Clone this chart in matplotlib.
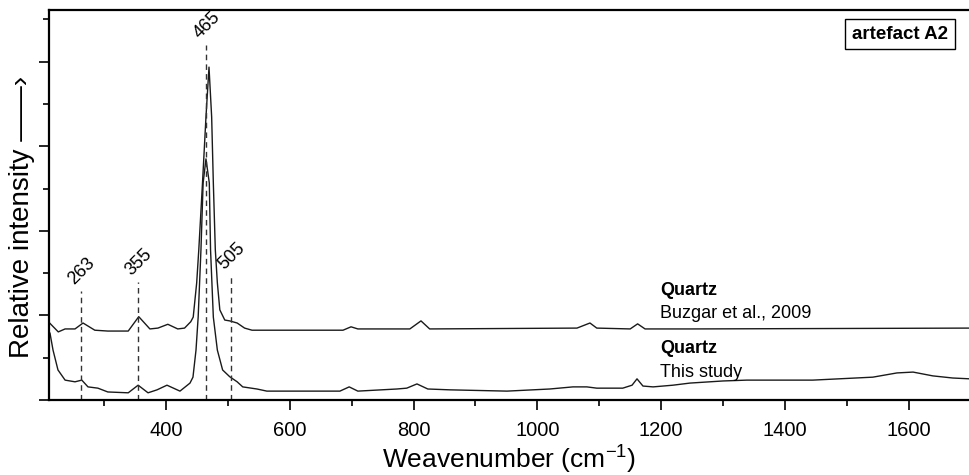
import numpy as np
import matplotlib
matplotlib.use('Agg')
import matplotlib.pyplot as plt
from matplotlib.ticker import MultipleLocator, NullFormatter

plt.rcParams['font.family'] = ['Liberation Sans', 'DejaVu Sans']
plt.rcParams['mathtext.default'] = 'regular'

# spectrum from Buzgar et al., 2009 (upper trace)
wn_ref = [212, 226, 237, 253, 266, 285, 306, 339, 356, 374, 387, 403, 419, 430,
          440, 444, 449.6, 453, 459, 464.6, 469.5, 473.8, 476.5, 479.7, 483, 487,
          495, 503, 515, 527, 539, 686, 699, 710, 794, 812, 826, 1064, 1085,
          1096, 1150, 1162, 1174, 1250, 1699]
int_ref = [1.82, 1.61, 1.68, 1.68, 1.82, 1.65, 1.63, 1.63, 1.97, 1.68, 1.70, 1.79,
           1.68, 1.70, 1.85, 1.96, 2.77, 3.55, 5.13, 6.69, 7.87, 6.69, 5.13, 3.55,
           2.77, 2.13, 1.89, 1.87, 1.82, 1.70, 1.65, 1.65, 1.73, 1.68, 1.68, 1.87,
           1.68, 1.70, 1.82, 1.70, 1.68, 1.80, 1.68, 1.68, 1.70]

# spectrum of this study (lower trace)
wn_study = [212.6, 217.5, 225.5, 237, 253, 264, 274, 290, 306, 339, 355, 371, 385.5,
            401.6, 422.6, 438.8, 443.6, 448.5, 452, 456.5, 460, 464.6, 470, 472,
            476.5, 483, 491.5, 503, 515, 524, 547, 563, 681, 696, 710, 773, 789,
            805.5, 823, 859, 951, 1020, 1057.5, 1080, 1096, 1138, 1153, 1161,
            1170.6, 1187, 1219, 1246.5, 1300, 1338.6, 1445, 1542, 1581, 1607,
            1639, 1671, 1699]
int_study = [1.58, 1.18, 0.71, 0.47, 0.43, 0.47, 0.31, 0.28, 0.19, 0.17, 0.35, 0.17,
             0.24, 0.35, 0.21, 0.40, 0.54, 1.18, 1.96, 3.55, 5.13, 5.70, 5.13, 3.55,
             1.96, 1.18, 0.71, 0.55, 0.43, 0.31, 0.26, 0.21, 0.21, 0.31, 0.21, 0.26,
             0.28, 0.38, 0.26, 0.24, 0.21, 0.26, 0.31, 0.31, 0.28, 0.28, 0.35, 0.50,
             0.33, 0.31, 0.35, 0.40, 0.45, 0.47, 0.47, 0.54, 0.64, 0.66, 0.57, 0.52,
             0.50]

# marked bands and height of the dashed markers
peak_pos = [263, 355, 465, 505]
peak_top = [2.58, 2.79, 8.4, 2.95]

fig = plt.figure(figsize=(9.7, 4.75), dpi=100)
ax = fig.add_axes([49 / 970, 75 / 475, 921 / 970, 390 / 475])

ax.plot(wn_ref, int_ref, color='#1a1a1a', lw=1.0)
ax.plot(wn_study, int_study, color='#1a1a1a', lw=1.0)

ax.vlines(peak_pos, 0, peak_top, colors='#333333', linestyles=(0, (4, 3)), lw=1.0)
for p, t in zip(peak_pos, peak_top):
    ax.annotate(str(p), (p, t), xytext=(-3, 2), textcoords='offset points',
                rotation=45, rotation_mode='anchor', ha='left', va='bottom',
                fontsize=13)

# sample labels
ax.text(1198, 2.48, 'Quartz', fontsize=13, fontweight='bold')
ax.text(1198, 1.94, 'Buzgar et al., 2009', fontsize=13)
ax.text(1198, 1.11, 'Quartz', fontsize=13, fontweight='bold')
ax.text(1198, 0.54, 'This study', fontsize=13)

ax.text(0.924, 0.938, 'artefact A2', transform=ax.transAxes, ha='center', va='center',
        fontsize=13.5, fontweight='bold',
        bbox=dict(boxstyle='square,pad=0.35', fc='white', ec='black', lw=1.0))

ax.set_xlim(211, 1699)
ax.set_ylim(0, 9.22)

ax.xaxis.set_major_locator(MultipleLocator(200))
ax.xaxis.set_minor_locator(MultipleLocator(100))
ax.yaxis.set_major_locator(MultipleLocator(2))
ax.yaxis.set_minor_locator(MultipleLocator(1))
ax.yaxis.set_major_formatter(NullFormatter())
ax.tick_params(axis='both', which='major', direction='out', length=7, width=1.2,
               labelsize=14.5, pad=8)
ax.tick_params(axis='both', which='minor', direction='out', length=4.5, width=1.2)

for s in ['left', 'bottom', 'top']:
    ax.spines[s].set_linewidth(1.6)
ax.spines['right'].set_visible(False)

ax.set_xlabel(r'Weavenumber (cm$^{-1}$)', fontsize=19, labelpad=3)
fig.text(22 / 970, 1 - 217 / 475, 'Relative intensity \u2014\u2014\u203a', rotation=90,
         ha='center', va='center', fontsize=20)

fig.savefig('out.png', dpi=100)
